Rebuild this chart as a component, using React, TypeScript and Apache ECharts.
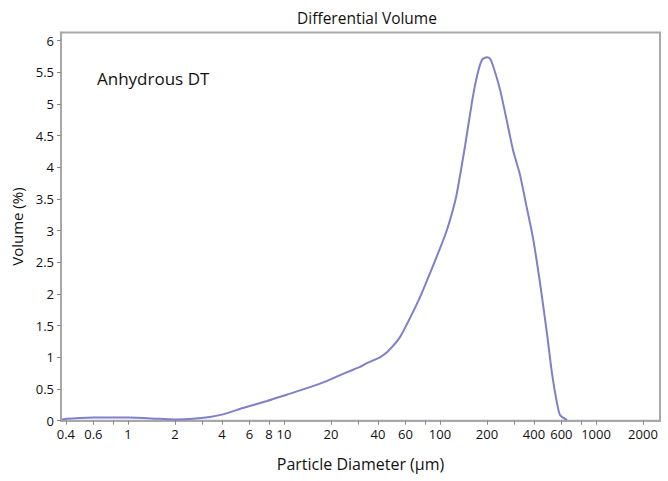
import React, { useEffect, useRef } from "react";
import * as echarts from "echarts";

const diameters = [
  0.378, 0.406, 0.6, 1.0, 1.6, 2.06, 2.61, 3.35, 4.06, 5.46, 7.78, 10.4, 14.7,
  18.9, 22.9, 30.7, 34.0, 41.2, 45.7, 50.0, 55.4, 64.2, 74.5, 86.3, 100, 111,
  121, 128, 145, 160, 173, 186, 200, 209, 219, 243, 269, 294, 326, 361, 395,
  438, 485, 522, 562, 588, 652,
];
const volumes = [
  0.02, 0.03, 0.05, 0.05, 0.03, 0.02, 0.03, 0.06, 0.1, 0.2, 0.31, 0.41, 0.53,
  0.63, 0.72, 0.85, 0.91, 1.0, 1.08, 1.18, 1.32, 1.62, 1.95, 2.33, 2.72, 3.02,
  3.33, 3.58, 4.35, 5.02, 5.45, 5.7, 5.74, 5.72, 5.6, 5.22, 4.72, 4.27, 3.88,
  3.35, 2.88, 2.17, 1.38, 0.75, 0.28, 0.09, 0.01,
];
const tickValues = [
  0.4, 0.6, 0.8, 1, 2, 3, 4, 6, 8, 10, 20, 30, 40, 60, 80, 100, 200, 300, 400,
  600, 800, 1000, 2000,
];
const labelValues = [
  0.4, 0.6, 1, 2, 4, 6, 8, 10, 20, 40, 60, 100, 200, 400, 600, 1000, 2000,
];
const xMin = 0.372;
const xMax = 2572;

const FONT = "'Open Sans', 'Noto Sans', sans-serif";

export default function App() {
  const ref = useRef<HTMLDivElement>(null);
  useEffect(() => {
    if (!ref.current) return;
    const chart = echarts.init(ref.current, null, { renderer: "svg" });
    const data = diameters.map((d, i) => [Math.log10(d), volumes[i]]);
    chart.setOption({
      animation: false,
      backgroundColor: "#ffffff",
      textStyle: { fontFamily: FONT },
      title: {
        text: "Differential Volume",
        left: 362,
        textAlign: "center",
        top: 5,
        textStyle: { fontFamily: FONT, fontSize: 15.5, fontWeight: "normal", color: "#111" },
      },
      grid: {
        left: 61,
        right: 8,
        top: 32.5,
        bottom: 60.3,
        show: true,
        borderColor: "#a8a8a8",
        borderWidth: 2,
        backgroundColor: "#ffffff",
      },
      graphic: [
        {
          type: "text",
          left: 97,
          top: 70,
          style: { text: "Anhydrous DT", font: `17px ${FONT}`, fill: "#111" },
        },
      ],
      xAxis: {
        type: "value",
        min: Math.log10(xMin),
        max: Math.log10(xMax),
        name: "Particle Diameter (µm)",
        nameLocation: "middle",
        nameGap: 35,
        nameTextStyle: { fontFamily: FONT, fontSize: 16, color: "#111" },
        axisLine: { show: true, onZero: false, lineStyle: { color: "#a8a8a8", width: 2 } },
        axisTick: {
          show: true,
          length: 4,
          customValues: tickValues.map((v) => Math.log10(v)),
          lineStyle: { color: "#888" },
        },
        axisLabel: {
          customValues: labelValues.map((v) => Math.log10(v)),
          formatter: (v: number) => String(Number(Math.pow(10, v).toPrecision(3))),
          fontFamily: FONT,
          fontSize: 13,
          color: "#111",
          margin: 7,
        },
        splitLine: { show: false },
      },
      yAxis: {
        type: "value",
        min: 0,
        max: 6.13,
        interval: 0.5,
        name: "Volume (%)",
        nameLocation: "middle",
        nameGap: 34,
        nameTextStyle: { fontFamily: FONT, fontSize: 15, color: "#111" },
        axisLine: { show: true, onZero: false, lineStyle: { color: "#a8a8a8", width: 2 } },
        axisTick: { show: true, length: 4, lineStyle: { color: "#888" } },
        axisLabel: {
          fontFamily: FONT,
          fontSize: 13,
          color: "#111",
          margin: 7,
          showMaxLabel: false,
          formatter: (v: number) => (v > 6.01 ? "" : String(v)),
        },
        splitLine: { show: false },
      },
      series: [
        {
          type: "line",
          data,
          smooth: 0.2,
          showSymbol: false,
          lineStyle: { color: "#7f7fca", width: 2 },
        },
      ],
    });
    return () => chart.dispose();
  }, []);
  return (
    <div
      ref={ref}
      style={{ position: "absolute", left: 0, top: 0, width: 668, height: 481 }}
    />
  );
}
